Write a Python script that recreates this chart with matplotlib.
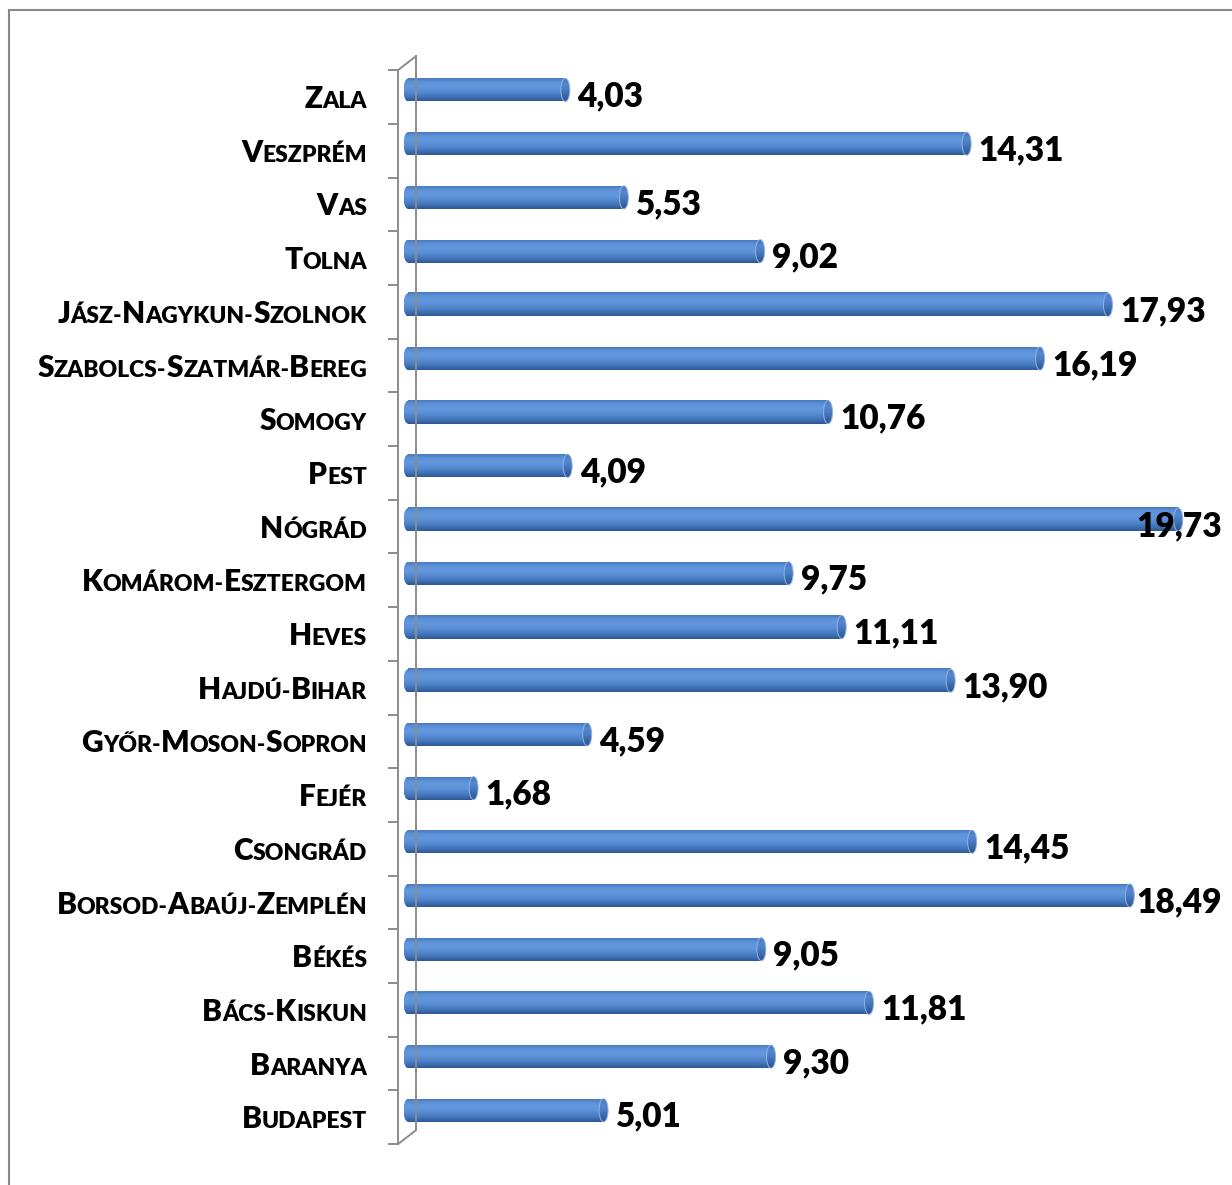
import matplotlib
matplotlib.use("Agg")
import numpy as np
import matplotlib.pyplot as plt
from matplotlib.patches import Ellipse, Rectangle
from matplotlib.transforms import offset_copy
from matplotlib.colors import LinearSegmentedColormap

# bottom to top, as in the chart
counties = ["Budapest", "Baranya", "Bács-Kiskun", "Békés", "Borsod-Abaúj-Zemplén",
            "Csongrád", "Fejér", "Győr-Moson-Sopron", "Hajdú-Bihar", "Heves",
            "Komárom-Esztergom", "Nógrád", "Pest", "Somogy", "Szabolcs-Szatmár-Bereg",
            "Jász-Nagykun-Szolnok", "Tolna", "Vas", "Veszprém", "Zala"]
values = [5.01, 9.30, 11.81, 9.05, 18.49, 14.45, 1.68, 4.59, 13.90, 11.11,
          9.75, 19.73, 4.09, 10.76, 16.19, 17.93, 9.02, 5.53, 14.31, 4.03]

FONT = ["Lato", "DejaVu Sans"]
WEIGHT = "heavy"
W, H, DPI = 1232, 1185, 100
PX_PER_UNIT = 39.04
X0 = 408          # pixel of value 0
Y_TOP = 63.15     # pixel of upper edge of the top slot (bars are drawn mid-depth)
SLOT = 53.7

fig = plt.figure(figsize=(W / DPI, H / DPI), dpi=DPI)
n = len(values)
xmin, xmax = -0.3, 20
left = (X0 + xmin * PX_PER_UNIT) / W
width = (xmax - xmin) * PX_PER_UNIT / W
top = 1 - Y_TOP / H
height = n * SLOT / H
ax = fig.add_axes([left, top - height, width, height])
ax.set_axis_off()

# chart frame, cut off at right and bottom like the original
fig.add_artist(Rectangle((9 / W, -0.05), 1.1, 1 - 10 / H + 0.05, transform=fig.transFigure,
                         fill=False, edgecolor="#888888", lw=1.5))

cyl = LinearSegmentedColormap.from_list("cyl", ["#4a7bc2", "#5d92d9", "#6398de", "#5d91d8",
                                                "#5084ca", "#4071b5", "#2d5895"])
grad = np.linspace(0, 1, 64).reshape(-1, 1)
cap_cmap = LinearSegmentedColormap.from_list("cap", ["#4373b8", "#5588ce", "#497cc2",
                                                    "#3868a9", "#2c5592"])

bar_h = 23 / SLOT
cap_w = 9 / PX_PER_UNIT
for i, v in enumerate(values):
    y0, y1 = i - bar_h / 2, i + bar_h / 2
    # left cap (behind), body, right cap
    lc = Ellipse((0, i), cap_w, bar_h, facecolor="none", edgecolor="none")
    ax.add_patch(lc)
    im = ax.imshow(grad, cmap=cyl, extent=(-cap_w / 2, cap_w / 2, y0, y1), aspect="auto",
                   origin="upper", zorder=2)
    im.set_clip_path(lc)
    ax.imshow(grad, cmap=cyl, extent=(0, v, y0, y1), aspect="auto", origin="upper", zorder=2)
    rc = Ellipse((v, i), cap_w, bar_h, facecolor="none", edgecolor="#8fb4e4", lw=0.7, zorder=4)
    ax.add_patch(rc)
    im = ax.imshow(grad, cmap=cap_cmap, extent=(v - cap_w / 2, v + cap_w / 2, y0, y1),
                   aspect="auto", origin="upper", zorder=3)
    im.set_clip_path(rc)

ax.set_xlim(xmin, xmax)
ax.set_ylim(-0.5, n - 0.5)

# 3d wall on the left
wall = "#8c8c8c"
front = offset_copy(ax.transData, fig, x=-10, y=-7, units="dots")
back = offset_copy(ax.transData, fig, x=8, y=7, units="dots")
ax.plot([0, 0], [-0.5, n - 0.5], color=wall, lw=1.4, transform=front, clip_on=False)
ax.plot([0, 0], [-0.5, n - 0.5], color=wall, lw=1.4, transform=back, clip_on=False)
tick_tr = offset_copy(ax.transData, fig, x=-19, y=-7, units="dots")
for k in range(n + 1):
    ax.plot([0, 9 / PX_PER_UNIT], [k - 0.5, k - 0.5], color=wall, lw=1.4,
            transform=tick_tr, clip_on=False)
# diagonals joining front and back
for yb in (-0.5, n - 0.5):
    ax.annotate("", xy=(0, yb), xycoords=back, xytext=(0, yb), textcoords=front,
                arrowprops=dict(arrowstyle="-", color=wall, lw=1.4, shrinkA=0, shrinkB=0))

fig.canvas.draw()
renderer = fig.canvas.get_renderer()


def small_caps_runs(name):
    runs = []
    for j, ch in enumerate(name):
        big = j == 0 or name[j - 1] == "-"
        if runs and runs[-1][1] == big:
            runs[-1][0] += ch.upper()
        else:
            runs.append([ch.upper(), big])
    return runs


# category labels in small caps, right aligned
for i, name in enumerate(counties):
    xoff = -41
    for txt, big in reversed(small_caps_runs(name)):
        t = ax.text(0, i, txt, fontsize=21.5 if big else 16.5, fontweight=WEIGHT, family=FONT,
                    ha="right", va="baseline", color="black",
                    transform=offset_copy(ax.transData, fig, x=xoff, y=-18, units="dots"))
        xoff -= t.get_window_extent(renderer).width

# value labels
for i, v in enumerate(values):
    lab = f"{v:.2f}".replace(".", ",")
    t = ax.text(v, i, lab, fontsize=24, fontweight=WEIGHT, family=FONT, ha="left",
                va="baseline", color="black", zorder=6,
                transform=offset_copy(ax.transData, fig, x=12, y=-16.5, units="dots"))
    bb = t.get_window_extent(renderer)
    if bb.x1 > W - 10:
        t.set_transform(offset_copy(ax.transData, fig, x=12 - (bb.x1 - (W - 10)), y=-16.5,
                                    units="dots"))

fig.savefig("out.png", dpi=DPI)
